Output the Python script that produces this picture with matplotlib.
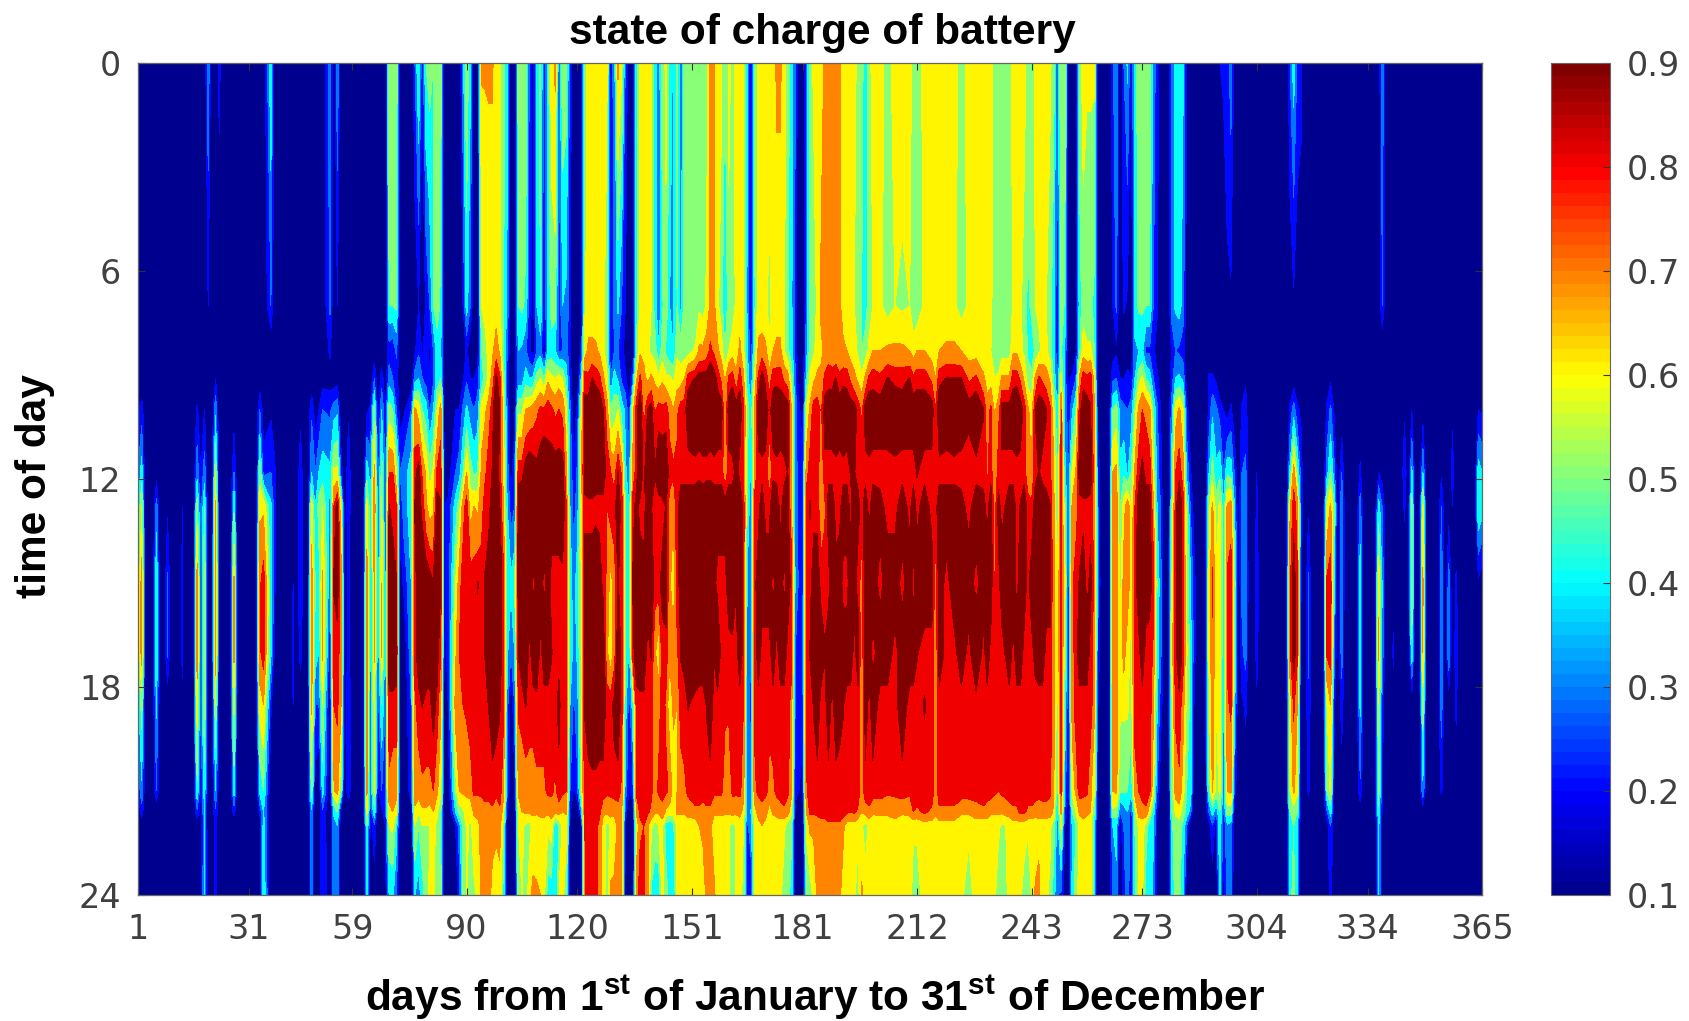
import numpy as np
import matplotlib
matplotlib.use('Agg')
import matplotlib.pyplot as plt
from matplotlib.cm import ScalarMappable
from matplotlib.colors import LinearSegmentedColormap, Normalize

plt.rcParams['font.family'] = ['Liberation Sans', 'DejaVu Sans']
plt.rcParams['mathtext.fontset'] = 'custom'
plt.rcParams['mathtext.bf'] = 'Liberation Sans:bold'
plt.rcParams['mathtext.rm'] = 'Liberation Sans'

# hours of the day the columns below were read at
hours = [0, 7, 8.3, 9.1, 10, 11.8, 12.8, 15, 17, 18.5, 21, 21.6, 22, 24]

# days where the battery stays empty all day
empty_days = [3, 5, 7, 8, 10, 12, 14, 16, 21, 24, 26, 28, 33, 39, 42, 44, 46, 47, 57, 59, 61, 62,
              262, 264, 279, 280, 288, 290, 299, 302, 303, 305, 306, 308, 309, 311, 312, 317, 319,
              322, 326, 328, 329, 331, 333, 336, 339, 340, 342, 343, 345, 347, 348, 350, 353, 355,
              359, 361, 363]

# day, then state of charge in percent at each hour
winter_soc = [
    [1, 10, 10, 10, 10, 18, 30, 40, 50, 50, 35, 20, 10, 10, 10],
    [2, 10, 10, 10, 10, 25, 45, 60, 75, 75, 55, 38, 25, 12, 10],
    [6, 10, 10, 10, 10, 10, 15, 35, 50, 50, 42, 30, 10, 10, 10],
    [9, 10, 10, 10, 10, 10, 10, 18, 32, 32, 12, 10, 10, 10, 10],
    [13, 10, 10, 10, 10, 10, 14, 20, 22, 22, 18, 10, 10, 10, 10],
    [17, 10, 10, 10, 10, 22, 36, 55, 75, 75, 65, 48, 28, 12, 10],
    [18, 10, 10, 10, 10, 12, 20, 25, 30, 30, 25, 20, 15, 10, 10],
    [19, 10, 10, 10, 10, 20, 35, 50, 60, 60, 60, 45, 40, 42, 44],
    [20, 38, 20, 10, 10, 10, 10, 10, 10, 10, 10, 10, 10, 10, 10],
    [22, 10, 10, 10, 20, 38, 60, 72, 78, 78, 60, 40, 28, 24, 26],
    [23, 24, 10, 10, 10, 10, 10, 10, 10, 10, 10, 10, 10, 10, 10],
    [27, 10, 10, 10, 10, 14, 30, 48, 72, 72, 62, 45, 24, 10, 10],
    [34, 10, 10, 10, 12, 30, 55, 68, 78, 78, 65, 42, 24, 12, 10],
    [35, 10, 10, 10, 10, 14, 25, 68, 85, 85, 70, 50, 40, 45, 48],
    [37, 48, 30, 10, 10, 18, 30, 42, 45, 42, 22, 10, 10, 10, 10],
    [38, 10, 10, 10, 10, 14, 22, 25, 22, 18, 10, 10, 10, 10, 10],
    [43, 10, 10, 10, 10, 10, 10, 10, 20, 22, 20, 16, 10, 10, 10],
    [45, 10, 10, 10, 10, 16, 28, 30, 30, 25, 10, 10, 10, 10, 10],
    [48, 10, 10, 10, 12, 28, 40, 65, 75, 78, 72, 55, 38, 34, 36],
    [49, 10, 10, 10, 10, 14, 30, 40, 50, 45, 30, 15, 10, 10, 10],
    [50, 14, 10, 10, 10, 20, 40, 55, 45, 40, 30, 10, 10, 10, 10],
    [51, 10, 10, 10, 15, 30, 45, 60, 72, 72, 60, 45, 28, 28, 30],
    [53, 35, 32, 22, 15, 28, 42, 35, 30, 20, 10, 10, 10, 10, 10],
    [54, 10, 10, 10, 12, 35, 62, 80, 88, 85, 80, 68, 42, 35, 36],
    [55, 38, 20, 10, 15, 38, 62, 92, 92, 84, 82, 74, 50, 40, 38],
    [56, 10, 10, 10, 10, 10, 25, 60, 75, 75, 70, 50, 15, 10, 10],
    [58, 10, 10, 10, 10, 18, 28, 28, 22, 25, 30, 28, 10, 10, 10],
    [63, 10, 10, 10, 10, 18, 45, 65, 74, 74, 74, 72, 62, 50, 42],
    [64, 14, 10, 10, 12, 22, 35, 40, 35, 35, 30, 30, 22, 15, 12],
    [65, 10, 10, 12, 30, 55, 72, 80, 72, 72, 62, 62, 48, 28, 12],
    [66, 10, 10, 10, 10, 15, 25, 30, 30, 30, 25, 18, 10, 10, 10],
    [67, 14, 10, 12, 25, 40, 55, 62, 70, 72, 50, 30, 18, 10, 10],
]

spring_soc = [
    [68, 10, 10, 10, 12, 20, 25, 25, 30, 30, 30, 28, 25, 20, 15],
    [69, 55, 50, 25, 35, 55, 80, 88, 95, 95, 85, 78, 65, 60, 40],
    [70, 58, 50, 22, 30, 50, 80, 85, 92, 95, 85, 75, 70, 62, 42],
    [71, 58, 52, 32, 25, 30, 60, 80, 88, 92, 85, 75, 62, 45, 30],
    [72, 10, 10, 10, 10, 15, 30, 22, 15, 12, 10, 10, 10, 10, 10],
    [73, 10, 10, 10, 10, 18, 35, 35, 22, 10, 10, 10, 10, 10, 10],
    [75, 10, 10, 10, 12, 30, 45, 45, 40, 38, 30, 25, 15, 10, 10],
    [76, 30, 12, 18, 35, 72, 85, 88, 85, 85, 78, 75, 68, 60, 40],
    [77, 50, 20, 28, 40, 65, 92, 92, 92, 92, 85, 75, 60, 50, 35],
    [78, 22, 10, 18, 30, 50, 78, 85, 95, 95, 88, 78, 68, 60, 45],
    [79, 50, 22, 25, 25, 45, 68, 72, 95, 95, 85, 78, 68, 60, 55],
    [80, 55, 30, 18, 20, 28, 55, 65, 92, 92, 85, 78, 65, 60, 62],
    [81, 50, 50, 30, 28, 40, 62, 68, 88, 95, 92, 80, 70, 62, 62],
    [82, 55, 55, 45, 45, 60, 82, 92, 92, 92, 85, 72, 62, 58, 55],
    [83, 55, 48, 40, 50, 75, 85, 88, 88, 80, 72, 62, 52, 50, 55],
    [84, 10, 10, 10, 10, 10, 15, 20, 20, 15, 10, 10, 10, 10, 10],
    [85, 10, 10, 10, 10, 12, 15, 22, 25, 25, 20, 12, 10, 10, 10],
    [87, 10, 10, 10, 10, 20, 30, 45, 60, 68, 75, 55, 40, 20, 10],
    [88, 10, 10, 10, 14, 20, 35, 55, 75, 80, 80, 70, 55, 35, 25],
    [89, 35, 20, 10, 18, 32, 50, 75, 85, 85, 80, 72, 58, 50, 50],
    [90, 58, 45, 22, 28, 42, 70, 85, 85, 85, 82, 72, 65, 62, 62],
    [91, 42, 30, 12, 20, 35, 55, 65, 85, 85, 85, 75, 62, 58, 50],
    [92, 10, 10, 12, 20, 30, 48, 70, 85, 85, 85, 82, 72, 65, 58],
    [93, 10, 10, 15, 25, 35, 50, 68, 88, 85, 85, 82, 72, 68, 62],
    [94, 71, 60, 50, 42, 65, 72, 75, 85, 85, 85, 82, 75, 72, 72],
    [95, 71, 62, 58, 55, 68, 78, 85, 88, 88, 85, 82, 78, 72, 72],
    [96, 71, 65, 62, 62, 75, 85, 85, 92, 92, 88, 82, 78, 72, 72],
    [97, 71, 65, 68, 75, 85, 88, 92, 92, 95, 92, 85, 78, 72, 68],
    [98, 65, 65, 75, 90, 95, 92, 92, 95, 95, 92, 82, 75, 72, 65],
    [99, 62, 62, 68, 82, 88, 85, 88, 95, 90, 88, 85, 78, 72, 68],
    [100, 55, 50, 50, 55, 62, 65, 70, 82, 85, 82, 72, 65, 55, 45],
    [101, 42, 38, 30, 25, 30, 35, 40, 45, 42, 35, 30, 22, 10, 10],
    [102, 12, 10, 10, 10, 10, 14, 25, 42, 30, 10, 10, 10, 10, 10],
    [103, 10, 10, 10, 12, 15, 30, 30, 48, 40, 30, 18, 10, 10, 10],
    [104, 55, 50, 40, 35, 58, 85, 92, 92, 88, 82, 72, 62, 60, 55],
    [105, 58, 52, 38, 35, 58, 85, 95, 95, 92, 85, 72, 70, 62, 60],
    [106, 58, 48, 32, 45, 70, 92, 95, 92, 95, 88, 75, 72, 58, 52],
    [107, 28, 25, 22, 40, 72, 95, 92, 95, 85, 85, 75, 72, 55, 68],
    [108, 15, 15, 14, 42, 75, 92, 95, 85, 92, 85, 75, 72, 65, 72],
    [109, 42, 40, 30, 55, 78, 90, 95, 92, 95, 85, 78, 72, 62, 72],
    [110, 55, 50, 35, 60, 82, 92, 95, 92, 85, 85, 78, 75, 62, 70],
    [111, 20, 20, 12, 50, 82, 95, 92, 85, 92, 85, 78, 75, 62, 62],
    [112, 45, 42, 42, 68, 85, 90, 95, 92, 92, 85, 82, 72, 62, 45],
    [113, 65, 55, 45, 62, 82, 92, 92, 85, 88, 85, 82, 75, 65, 45],
    [114, 72, 55, 40, 60, 78, 92, 92, 85, 85, 85, 78, 72, 42, 38],
    [115, 30, 22, 28, 65, 80, 92, 92, 85, 85, 90, 85, 75, 50, 60],
    [116, 58, 40, 30, 60, 78, 92, 95, 85, 85, 82, 82, 70, 62, 62],
    [117, 55, 38, 35, 45, 62, 72, 80, 82, 85, 85, 80, 72, 62, 55],
    [118, 25, 22, 22, 25, 32, 40, 40, 45, 50, 40, 30, 22, 18, 12],
    [119, 10, 10, 10, 10, 15, 20, 25, 35, 35, 28, 18, 10, 10, 10],
    [120, 10, 10, 10, 12, 22, 32, 35, 45, 42, 35, 28, 10, 10, 10],
    [121, 10, 12, 22, 40, 60, 68, 62, 60, 60, 60, 55, 35, 12, 10],
    [122, 55, 58, 65, 85, 90, 92, 85, 92, 92, 88, 85, 80, 80, 78],
    [123, 65, 65, 72, 82, 92, 95, 85, 92, 95, 92, 85, 82, 82, 85],
    [124, 65, 65, 72, 88, 95, 95, 85, 92, 95, 95, 85, 85, 85, 85],
    [125, 62, 62, 72, 85, 95, 92, 85, 95, 92, 95, 85, 85, 82, 82],
    [126, 65, 62, 68, 82, 95, 92, 85, 92, 95, 92, 85, 82, 78, 78],
    [127, 65, 62, 62, 72, 88, 92, 85, 85, 95, 92, 85, 72, 65, 65],
    [128, 62, 55, 55, 62, 75, 85, 80, 78, 72, 85, 82, 72, 55, 55],
    [129, 22, 20, 20, 30, 50, 80, 85, 65, 62, 85, 82, 75, 62, 72],
    [130, 35, 32, 30, 45, 55, 75, 85, 75, 75, 90, 85, 72, 65, 72],
    [131, 72, 42, 30, 38, 60, 88, 92, 88, 95, 92, 85, 75, 72, 72],
    [132, 62, 30, 25, 28, 45, 78, 85, 85, 85, 85, 78, 72, 72, 72],
    [133, 30, 20, 15, 22, 38, 42, 50, 50, 50, 45, 35, 25, 18, 12],
    [134, 12, 10, 10, 12, 22, 32, 40, 42, 38, 25, 20, 12, 10, 10],
    [135, 10, 10, 12, 30, 65, 72, 85, 88, 85, 45, 25, 14, 10, 10],
    [136, 45, 45, 50, 68, 85, 85, 90, 92, 92, 85, 82, 72, 62, 75],
    [137, 65, 65, 68, 82, 95, 95, 85, 92, 95, 85, 82, 82, 78, 85],
    [138, 65, 65, 68, 72, 75, 85, 85, 90, 95, 85, 85, 82, 80, 82],
    [139, 65, 65, 62, 68, 88, 95, 92, 92, 85, 85, 85, 82, 72, 75],
    [140, 62, 60, 58, 72, 92, 92, 88, 92, 88, 85, 82, 78, 62, 48],
    [141, 45, 45, 55, 68, 78, 88, 85, 85, 72, 72, 75, 72, 55, 45],
    [142, 32, 28, 42, 62, 85, 92, 85, 85, 62, 75, 82, 72, 60, 42],
    [143, 55, 48, 55, 68, 82, 95, 85, 90, 85, 85, 82, 78, 62, 62],
    [144, 62, 58, 48, 62, 85, 92, 88, 92, 85, 78, 82, 68, 45, 55],
    [145, 45, 40, 42, 62, 75, 85, 75, 72, 72, 62, 78, 65, 42, 45],
    [146, 38, 38, 40, 58, 70, 82, 72, 62, 75, 72, 65, 65, 48, 40],
    [147, 55, 50, 58, 65, 78, 82, 85, 85, 78, 70, 70, 72, 62, 62],
    [148, 30, 35, 55, 65, 85, 85, 92, 90, 88, 85, 75, 72, 62, 60],
    [149, 55, 55, 55, 70, 85, 85, 92, 92, 90, 85, 78, 72, 62, 62],
    [150, 52, 52, 55, 85, 92, 85, 92, 92, 92, 88, 82, 75, 62, 62],
]

summer_soc = [
    [152, 52, 52, 62, 88, 95, 85, 92, 92, 95, 85, 85, 78, 62, 62],
    [153, 52, 58, 72, 92, 92, 85, 95, 95, 92, 85, 85, 78, 70, 65],
    [154, 52, 55, 72, 92, 95, 85, 92, 92, 92, 85, 82, 78, 72, 65],
    [155, 55, 62, 75, 92, 95, 85, 95, 95, 92, 88, 85, 78, 72, 72],
    [156, 72, 72, 82, 95, 92, 85, 95, 95, 95, 92, 85, 78, 72, 72],
    [157, 72, 72, 78, 92, 95, 85, 92, 90, 88, 85, 82, 72, 65, 72],
    [158, 62, 62, 72, 85, 92, 85, 92, 85, 95, 85, 82, 72, 65, 65],
    [159, 62, 55, 65, 78, 92, 85, 92, 85, 85, 85, 82, 72, 65, 65],
    [160, 50, 38, 50, 68, 72, 72, 92, 85, 85, 82, 75, 72, 62, 62],
    [161, 62, 58, 60, 82, 92, 85, 92, 92, 85, 82, 72, 72, 62, 62],
    [162, 58, 55, 65, 85, 95, 85, 92, 95, 85, 82, 82, 75, 55, 55],
    [163, 62, 62, 65, 72, 92, 90, 95, 88, 85, 85, 82, 72, 62, 62],
    [164, 65, 65, 72, 85, 92, 85, 95, 92, 92, 85, 82, 75, 62, 65],
    [165, 62, 60, 62, 72, 82, 80, 85, 85, 85, 80, 75, 65, 60, 55],
    [166, 42, 38, 42, 45, 55, 50, 50, 38, 35, 32, 30, 32, 28, 18],
    [167, 16, 15, 22, 30, 42, 38, 32, 32, 30, 28, 32, 40, 35, 22],
    [168, 50, 48, 52, 62, 72, 72, 85, 85, 82, 82, 78, 65, 60, 62],
    [169, 65, 65, 72, 82, 92, 85, 85, 92, 92, 85, 82, 75, 65, 65],
    [170, 62, 62, 75, 92, 95, 85, 92, 92, 85, 85, 82, 78, 70, 65],
    [171, 65, 62, 72, 85, 92, 85, 85, 92, 85, 85, 82, 75, 65, 65],
    [172, 62, 58, 60, 75, 85, 72, 85, 92, 85, 82, 78, 65, 62, 65],
    [173, 65, 65, 70, 85, 92, 85, 95, 85, 92, 85, 78, 72, 62, 62],
    [174, 72, 65, 72, 85, 95, 85, 92, 92, 85, 85, 82, 75, 62, 62],
    [175, 72, 65, 72, 85, 92, 85, 85, 92, 92, 85, 82, 78, 62, 62],
    [176, 62, 62, 60, 78, 95, 85, 92, 85, 92, 85, 85, 78, 62, 55],
    [177, 55, 52, 52, 75, 92, 88, 90, 92, 85, 85, 82, 75, 55, 55],
    [178, 42, 42, 45, 55, 70, 72, 72, 85, 85, 75, 72, 62, 52, 45],
    [179, 32, 25, 28, 30, 35, 35, 35, 38, 30, 28, 22, 18, 15, 12],
    [180, 10, 10, 10, 15, 22, 25, 25, 28, 28, 28, 20, 10, 10, 10],
    [181, 10, 10, 10, 12, 15, 22, 20, 22, 30, 22, 18, 10, 10, 10],
    [182, 30, 30, 35, 42, 60, 75, 85, 85, 82, 85, 78, 70, 62, 50],
    [183, 55, 55, 55, 62, 72, 85, 88, 85, 88, 85, 85, 82, 72, 55],
    [184, 62, 55, 58, 68, 85, 85, 85, 92, 92, 88, 85, 82, 72, 62],
    [185, 65, 62, 65, 72, 85, 85, 85, 92, 95, 92, 85, 82, 75, 72],
    [186, 65, 72, 68, 72, 78, 72, 72, 85, 92, 85, 85, 85, 75, 72],
    [187, 72, 72, 72, 82, 92, 85, 78, 85, 88, 85, 85, 85, 75, 72],
    [188, 75, 75, 75, 85, 92, 85, 92, 85, 92, 92, 85, 85, 78, 75],
    [189, 75, 72, 72, 85, 92, 85, 92, 92, 95, 85, 85, 85, 78, 75],
    [190, 75, 72, 72, 88, 95, 85, 85, 90, 92, 92, 85, 85, 78, 72],
    [191, 72, 72, 72, 82, 92, 85, 85, 92, 95, 90, 85, 85, 78, 72],
    [192, 65, 65, 72, 85, 95, 85, 92, 85, 92, 88, 85, 85, 72, 65],
    [193, 65, 62, 70, 85, 92, 85, 92, 85, 92, 85, 85, 82, 65, 65],
    [194, 65, 62, 65, 78, 92, 88, 85, 92, 92, 85, 85, 80, 65, 62],
    [195, 65, 60, 65, 72, 92, 88, 92, 90, 85, 85, 85, 82, 65, 62],
    [196, 55, 52, 58, 68, 85, 85, 90, 85, 92, 85, 85, 78, 62, 55],
    [197, 55, 50, 50, 62, 78, 85, 85, 75, 72, 72, 75, 70, 62, 72],
    [198, 42, 45, 55, 72, 92, 85, 92, 92, 95, 92, 85, 75, 55, 65],
    [199, 55, 55, 62, 82, 95, 85, 85, 92, 92, 85, 85, 78, 62, 62],
    [200, 65, 60, 70, 85, 92, 85, 92, 92, 85, 92, 85, 72, 62, 65],
    [202, 65, 62, 70, 82, 92, 85, 90, 85, 92, 85, 85, 72, 65, 65],
    [204, 55, 55, 72, 88, 92, 85, 85, 92, 92, 85, 82, 72, 65, 65],
    [206, 65, 60, 72, 85, 95, 85, 85, 92, 85, 85, 82, 75, 65, 65],
    [208, 65, 58, 72, 85, 92, 85, 92, 85, 92, 92, 85, 72, 62, 62],
    [210, 65, 60, 70, 88, 92, 85, 85, 92, 92, 85, 82, 72, 65, 65],
    [211, 55, 52, 65, 82, 92, 85, 92, 85, 92, 85, 85, 80, 62, 55],
    [212, 52, 52, 70, 85, 92, 88, 85, 92, 88, 85, 85, 78, 62, 55],
    [214, 65, 62, 70, 85, 92, 85, 92, 92, 85, 88, 85, 82, 65, 65],
    [216, 65, 62, 65, 78, 92, 85, 85, 92, 85, 85, 85, 78, 65, 65],
    [217, 65, 62, 62, 70, 80, 85, 85, 75, 72, 70, 75, 72, 65, 65],
    [218, 65, 62, 70, 85, 95, 85, 92, 92, 92, 85, 85, 78, 65, 65],
    [220, 65, 62, 72, 88, 92, 85, 92, 85, 85, 85, 85, 78, 65, 65],
    [222, 65, 62, 72, 88, 95, 85, 92, 92, 85, 85, 85, 78, 65, 65],
    [224, 55, 55, 70, 88, 92, 85, 90, 92, 92, 85, 85, 72, 62, 62],
    [226, 65, 62, 65, 78, 92, 80, 85, 92, 85, 85, 85, 72, 62, 55],
    [228, 65, 62, 65, 82, 95, 85, 92, 85, 95, 85, 85, 75, 65, 65],
    [230, 65, 62, 62, 72, 88, 85, 90, 92, 85, 85, 85, 78, 62, 65],
    [231, 65, 62, 60, 65, 75, 78, 85, 92, 92, 85, 85, 75, 65, 65],
    [232, 65, 62, 60, 65, 82, 85, 92, 92, 85, 85, 85, 72, 62, 65],
    [233, 55, 55, 55, 60, 68, 68, 75, 78, 85, 85, 82, 72, 62, 62],
    [234, 52, 52, 52, 62, 75, 85, 90, 85, 85, 85, 80, 72, 62, 55],
    [235, 52, 52, 55, 72, 92, 85, 85, 92, 85, 85, 82, 72, 58, 55],
    [237, 52, 52, 55, 72, 92, 85, 92, 95, 92, 85, 85, 75, 62, 62],
    [238, 65, 62, 68, 85, 92, 85, 92, 92, 85, 85, 85, 78, 65, 65],
    [239, 65, 62, 68, 85, 95, 85, 85, 85, 92, 85, 85, 78, 65, 65],
    [240, 65, 62, 62, 78, 92, 85, 88, 92, 92, 85, 85, 82, 65, 62],
    [241, 65, 55, 58, 68, 85, 85, 92, 92, 85, 85, 85, 82, 65, 55],
    [242, 55, 48, 48, 55, 72, 72, 85, 85, 85, 85, 85, 78, 62, 50],
    [243, 52, 52, 45, 52, 65, 70, 82, 92, 85, 85, 85, 78, 62, 60],
    [244, 62, 60, 52, 72, 88, 85, 92, 92, 90, 85, 85, 75, 62, 72],
    [245, 68, 62, 58, 82, 92, 88, 92, 95, 92, 85, 85, 72, 68, 72],
    [246, 62, 60, 62, 78, 92, 85, 92, 95, 92, 85, 82, 78, 62, 62],
    [247, 62, 60, 62, 75, 88, 85, 90, 92, 85, 85, 82, 78, 62, 62],
    [248, 62, 55, 55, 68, 82, 82, 88, 92, 85, 85, 82, 75, 62, 58],
    [249, 55, 42, 42, 48, 62, 72, 72, 72, 72, 72, 72, 68, 55, 45],
    [250, 28, 22, 22, 28, 40, 45, 50, 60, 60, 55, 45, 35, 35, 30],
    [251, 60, 58, 52, 62, 80, 82, 82, 85, 85, 85, 82, 72, 62, 28],
    [252, 60, 48, 40, 35, 38, 42, 55, 65, 55, 50, 35, 30, 20, 15],
    [253, 10, 10, 10, 18, 22, 30, 30, 22, 18, 18, 15, 12, 10, 10],
    [254, 10, 10, 10, 22, 38, 62, 72, 78, 75, 75, 62, 50, 40, 42],
    [255, 10, 10, 18, 30, 50, 70, 75, 85, 85, 85, 72, 60, 50, 58],
    [256, 55, 45, 48, 72, 85, 92, 85, 88, 92, 85, 85, 72, 62, 62],
    [257, 65, 55, 65, 85, 92, 95, 85, 92, 92, 85, 82, 75, 65, 65],
    [258, 62, 52, 62, 82, 92, 95, 85, 85, 92, 85, 82, 72, 65, 65],
    [259, 62, 52, 62, 85, 88, 92, 85, 90, 85, 85, 72, 70, 62, 65],
    [260, 62, 48, 50, 65, 72, 75, 75, 78, 72, 72, 62, 50, 45, 45],
    [261, 10, 10, 10, 10, 15, 28, 30, 32, 28, 20, 14, 10, 10, 10],
]

autumn_soc = [
    [265, 28, 20, 15, 28, 50, 70, 75, 75, 75, 72, 70, 58, 40, 30],
    [266, 38, 32, 18, 30, 55, 72, 75, 78, 75, 75, 72, 55, 42, 38],
    [267, 10, 10, 10, 20, 35, 42, 50, 55, 60, 62, 50, 30, 12, 10],
    [268, 30, 22, 10, 20, 32, 48, 65, 75, 75, 62, 52, 35, 30, 25],
    [269, 42, 18, 10, 25, 30, 38, 78, 78, 62, 62, 50, 40, 38, 35],
    [270, 18, 10, 10, 20, 35, 50, 60, 62, 58, 55, 42, 25, 20, 22],
    [271, 45, 45, 38, 40, 55, 72, 80, 85, 85, 85, 75, 55, 50, 48],
    [272, 55, 52, 40, 55, 72, 85, 92, 92, 85, 85, 80, 75, 62, 62],
    [273, 55, 52, 42, 62, 80, 90, 92, 92, 92, 85, 85, 75, 65, 62],
    [274, 55, 50, 28, 50, 78, 85, 92, 92, 85, 85, 85, 78, 55, 45],
    [275, 55, 50, 28, 45, 72, 85, 92, 90, 85, 85, 82, 62, 45, 48],
    [276, 35, 30, 22, 30, 50, 62, 72, 85, 78, 72, 62, 45, 40, 38],
    [277, 25, 22, 15, 22, 32, 35, 40, 50, 45, 42, 30, 22, 18, 15],
    [278, 10, 10, 10, 15, 20, 22, 30, 32, 32, 25, 12, 10, 10, 10],
    [281, 35, 35, 22, 25, 35, 45, 50, 60, 65, 58, 50, 50, 48, 40],
    [282, 42, 42, 30, 40, 65, 80, 85, 85, 85, 82, 75, 62, 55, 55],
    [283, 45, 45, 28, 42, 72, 85, 95, 95, 95, 85, 78, 65, 55, 52],
    [284, 42, 35, 25, 38, 62, 75, 85, 85, 85, 75, 65, 55, 48, 42],
    [285, 20, 15, 12, 15, 25, 38, 55, 60, 62, 58, 50, 48, 30, 12],
    [286, 10, 10, 10, 10, 12, 22, 30, 42, 45, 48, 50, 35, 10, 10],
    [287, 10, 10, 10, 10, 10, 10, 15, 25, 25, 20, 10, 10, 10, 10],
    [291, 10, 10, 10, 22, 22, 38, 55, 62, 62, 55, 48, 30, 15, 10],
    [292, 10, 10, 10, 22, 38, 55, 72, 82, 78, 75, 72, 45, 28, 12],
    [293, 12, 10, 10, 18, 32, 42, 55, 62, 62, 60, 55, 32, 15, 10],
    [294, 20, 10, 10, 10, 25, 48, 62, 68, 68, 62, 62, 50, 48, 48],
    [295, 22, 10, 10, 10, 20, 30, 42, 40, 38, 35, 35, 28, 20, 14],
    [296, 25, 18, 10, 10, 14, 48, 72, 82, 82, 78, 70, 55, 38, 34],
    [297, 35, 18, 10, 12, 22, 45, 75, 85, 85, 82, 72, 55, 35, 32],
    [298, 16, 10, 10, 10, 12, 28, 40, 55, 50, 42, 25, 12, 10, 10],
    [300, 10, 10, 10, 12, 22, 30, 35, 32, 28, 18, 10, 10, 10, 10],
    [301, 10, 10, 10, 18, 25, 32, 34, 38, 34, 22, 14, 10, 10, 10],
    [304, 10, 10, 10, 10, 10, 20, 22, 28, 24, 18, 10, 10, 10, 10],
    [307, 10, 10, 10, 10, 10, 10, 10, 14, 14, 10, 10, 10, 10, 10],
    [310, 10, 10, 10, 10, 10, 20, 20, 10, 10, 10, 10, 10, 10, 10],
    [313, 30, 12, 10, 12, 22, 42, 68, 78, 78, 62, 60, 50, 45, 48],
    [314, 45, 18, 10, 14, 35, 75, 85, 92, 92, 82, 72, 55, 50, 52],
    [315, 28, 12, 10, 12, 22, 50, 75, 82, 82, 70, 62, 50, 42, 42],
    [316, 22, 16, 10, 12, 18, 25, 28, 20, 15, 10, 10, 10, 10, 10],
    [318, 10, 10, 10, 10, 10, 10, 18, 32, 32, 28, 22, 14, 10, 10],
    [323, 12, 10, 10, 14, 22, 35, 60, 82, 82, 60, 50, 28, 14, 12],
    [324, 18, 10, 10, 18, 32, 52, 72, 85, 85, 70, 62, 45, 30, 24],
    [325, 10, 10, 10, 10, 18, 32, 50, 40, 30, 22, 10, 10, 10, 10],
    [327, 10, 10, 10, 10, 12, 30, 40, 38, 35, 25, 14, 10, 10, 10],
    [330, 10, 10, 10, 10, 10, 10, 10, 20, 20, 18, 10, 10, 10, 10],
    [332, 10, 10, 10, 10, 10, 22, 35, 45, 48, 42, 28, 12, 10, 10],
    [337, 10, 10, 10, 10, 10, 20, 45, 68, 72, 60, 55, 48, 42, 40],
    [338, 38, 30, 10, 10, 10, 14, 30, 38, 36, 25, 20, 18, 16, 16],
    [341, 10, 10, 10, 10, 10, 10, 10, 15, 22, 15, 10, 10, 10, 10],
    [344, 10, 10, 10, 10, 18, 28, 22, 12, 10, 10, 10, 10, 10, 10],
    [346, 10, 10, 10, 10, 20, 42, 55, 58, 48, 12, 10, 10, 10, 10],
    [349, 10, 10, 10, 10, 14, 40, 62, 72, 70, 55, 38, 12, 10, 10],
    [354, 10, 10, 10, 10, 10, 18, 30, 38, 38, 35, 22, 10, 10, 10],
    [356, 10, 10, 10, 10, 10, 10, 15, 35, 40, 12, 10, 10, 10, 10],
    [357, 10, 10, 10, 10, 18, 24, 20, 10, 10, 10, 10, 10, 10, 10],
    [358, 10, 10, 10, 10, 10, 10, 10, 22, 26, 22, 14, 10, 10, 10],
    [362, 10, 10, 10, 10, 10, 10, 10, 16, 16, 10, 10, 10, 10, 10],
    [364, 10, 10, 10, 10, 20, 45, 50, 18, 10, 10, 10, 10, 10, 10],
    [365, 10, 10, 10, 10, 18, 40, 45, 12, 10, 10, 10, 10, 10, 10],
]

x_ticks = [1, 31, 59, 90, 120, 151, 181, 212, 243, 273, 304, 334, 365]
y_ticks = [0, 6, 12, 18, 24]
cbar_ticks = [0.1, 0.2, 0.3, 0.4, 0.5, 0.6, 0.7, 0.8, 0.9]

table = np.array(winter_soc + spring_soc + summer_soc + autumn_soc, dtype=float)
for day in empty_days:
    table = np.vstack([table, [day] + [10] * len(hours)])
table = table[np.argsort(table[:, 0])]
days = table[:, 0]
soc = table[:, 1:].T / 100

# same anchors as the old matlab jet
jet = LinearSegmentedColormap.from_list('jet64', [
    (0, (0, 0, 0.5625)), (0.0625 * 1.9, (0, 0, 1)), (0.375, (0, 1, 1)),
    (0.625, (1, 1, 0)), (0.875, (1, 0, 0)), (1, (0.5, 0, 0))], N=64)
band_colors = [jet((v - 0.1) / 0.8) for v in cbar_ticks]
band_edges = [0, 0.2, 0.3, 0.4, 0.5, 0.6, 0.7, 0.8, 0.875, 1.0]

W, H = 1689, 1021
fig = plt.figure(figsize=(W / 100, H / 100), dpi=100)
ax = fig.add_axes([138 / W, 1 - 895 / H, 1344 / W, 832 / H])
ax.contourf(days, hours, soc, levels=band_edges, colors=band_colors)
ax.set_xlim(1, 365)
ax.set_ylim(24, 0)
ax.set_xticks(x_ticks)
ax.set_yticks(y_ticks)
ax.tick_params(direction='in', length=5, width=0.8, color='#333333', labelcolor='#404040',
               labelsize=24, top=True, right=True)
ax.tick_params(axis='x', pad=13)
ax.tick_params(axis='y', pad=12)
for lab in ax.get_xticklabels() + ax.get_yticklabels():
    lab.set_fontfamily('DejaVu Sans')
for s in ax.spines.values():
    s.set_color('#666666')
    s.set_linewidth(0.9)

ax.set_title('state of charge of battery', fontsize=30.5, fontweight='bold', x=0.509, pad=14)
ax.set_ylabel('time of day', fontsize=30.5, fontweight='bold', va='center')
ax.yaxis.set_label_coords(-0.0763, 0.492)
ax.set_xlabel(r'days from 1$^{\mathbf{st}}$ of January to 31$^{\mathbf{st}}$ of December',
              fontsize=30.5, fontweight='bold', va='center')
ax.xaxis.set_label_coords(0.504, -0.1226)

cax = fig.add_axes([1551 / W, 1 - 895 / H, 59 / W, 832 / H])
cb = fig.colorbar(ScalarMappable(Normalize(0.1, 0.9), jet), cax=cax, ticks=cbar_ticks)
cb.ax.set_yticklabels(['%.1f' % v for v in cbar_ticks])
cb.ax.tick_params(direction='in', length=5, width=0.8, color='#333333', labelcolor='#404040',
                  labelsize=24, pad=12)
for lab in cb.ax.get_yticklabels():
    lab.set_fontfamily('DejaVu Sans')
cb.outline.set_edgecolor('#666666')

fig.savefig('out.png', dpi=100)
